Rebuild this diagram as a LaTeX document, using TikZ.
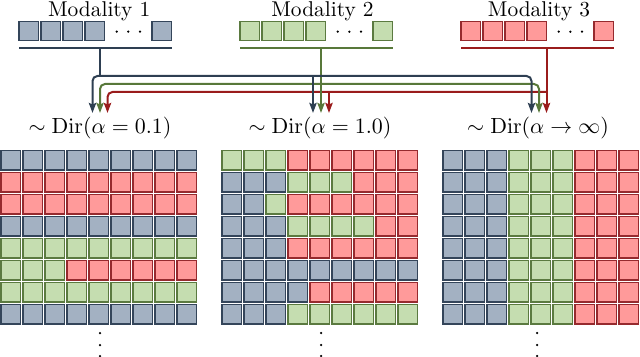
\documentclass[tikz,border=0pt]{standalone}
\usetikzlibrary{arrows.meta}
\definecolor{fB}{HTML}{A3B1C2}
\definecolor{dB}{HTML}{34455A}
\definecolor{fG}{HTML}{C5DDB0}
\definecolor{dG}{HTML}{5B7A40}
\definecolor{fR}{HTML}{FF9A9A}
\definecolor{dR}{HTML}{962A2E}
\definecolor{lB}{HTML}{2E3F52}
\definecolor{lG}{HTML}{58783A}
\definecolor{lR}{HTML}{9A1C1C}
\newcommand\gridrow[3]{%
  \foreach \c [count=\i from 0] in {#3} {%
    \path[fill=f\c, draw=d\c, line width=0.7pt] ({#1+22*\i},{150.5+22*#2}) rectangle ++(19.5,19.5);
  }%
}
\newcommand\modsq[2]{% x0, letter
  \foreach \k in {0,1,2,3,6.045} {%
    \path[fill=f#2, draw=d#2, line width=0.7pt] ({#1+22*\k},21.5) rectangle ++(19.5,19);
  }%
  \foreach \k in {97.7,109.3,121} {\fill ({#1+\k},31.7) circle (1.25);}
  \draw[draw=l#2, line width=1.05pt] (#1,48) -- ++(152.5,0);
}
\begin{document}
\begin{tikzpicture}[x=0.5pt,y=-0.5pt,
  lab/.style={anchor=base, inner sep=0pt, font=\fontsize{10.7}{12}\selectfont},
  conn/.style={line width=1pt, rounded corners=2.5},
  tip/.style={-{Stealth[length=5pt,width=3.6pt,inset=0.7pt]}}]
\useasboundingbox (0,0) rectangle (640,357);

% top modality rows
\modsq{19}{B}
\modsq{240}{G}
\modsq{461}{R}
\node[lab] (mod1) at (99.2,16.7) {Modality 1};
\node[lab] (mod2) at (322.5,16.7) {Modality 2};
\node[lab] (mod3) at (539,16.7) {Modality 3};

% connector coordinates
\coordinate (s1) at (100,48);
\coordinate (s2) at (321,48);
\coordinate (s3) at (546.5,48);
\coordinate (jb) at (100,76);
\coordinate (jb2) at (313,76);
\coordinate (jg) at (321,84);
\coordinate (jr) at (546.5,92);
\coordinate (jr2) at (329,92);
\coordinate (tb1) at (92.5,113);
\coordinate (tg1) at (100,113);
\coordinate (tr1) at (107.5,113);
\coordinate (tb2) at (313,113);
\coordinate (tg2) at (321,113);
\coordinate (tr2) at (329,113);
\coordinate (tb3) at (531.5,113);
\coordinate (tg3) at (539,113);
\coordinate (tr3) at (546.5,113);

% red
\draw[conn, lR, tip] (s3) -- (tr3);
\draw[conn, lR, tip] (jr) -| (tr1);
\draw[conn, lR, tip] (jr2) -- (tr2);
% green
\draw[conn, lG, tip] (s2) -- (tg2);
\draw[conn, lG, tip] (jg) -| (tg1);
\draw[conn, lG, tip] (jg) -| (tg3);
% blue
\draw[conn, lB] (s1) -- (jb);
\draw[conn, lB, tip] (jb) -| (tb1);
\draw[conn, lB, tip] (jb) -| (tb3);
\draw[conn, lB, tip] (jb2) -- (tb2);

% labels
\node[lab] (d1) at (100,134) {$\sim \mathrm{Dir}(\alpha = 0.1)$};
\node[lab] (d2) at (320,134) {$\sim \mathrm{Dir}(\alpha = 1.0)$};
\node[lab] (d3) at (538,134) {$\sim \mathrm{Dir}(\alpha \to \infty)$};

% grid 1
\gridrow{1}{0}{B,B,B,B,B,B,B,B,B}
\gridrow{1}{1}{R,R,R,R,R,R,R,R,R}
\gridrow{1}{2}{R,R,R,R,R,R,R,R,R}
\gridrow{1}{3}{B,B,B,B,B,B,B,B,B}
\gridrow{1}{4}{G,G,G,G,G,G,G,G,G}
\gridrow{1}{5}{G,G,G,R,R,R,R,R,R}
\gridrow{1}{6}{G,G,G,G,G,G,G,G,G}
\gridrow{1}{7}{B,B,B,B,B,B,B,B,B}
% grid 2
\gridrow{222}{0}{G,G,G,R,R,R,R,R,R}
\gridrow{222}{1}{B,B,B,G,G,G,R,R,R}
\gridrow{222}{2}{B,B,G,R,R,R,R,R,R}
\gridrow{222}{3}{B,B,B,G,G,G,G,R,R}
\gridrow{222}{4}{B,B,B,R,R,R,R,R,R}
\gridrow{222}{5}{B,B,B,B,B,B,B,B,B}
\gridrow{222}{6}{B,B,B,B,R,R,R,R,R}
\gridrow{222}{7}{B,B,B,G,G,G,G,G,G}
% grid 3
\foreach \r in {0,...,7} {\gridrow{443}{\r}{B,B,B,G,G,G,R,R,R}}

% vertical dots
\foreach \x in {100,321,537} {
  \foreach \y in {333,345,356} {\fill (\x,\y) circle (1.25);}
}
\end{tikzpicture}
\end{document}
